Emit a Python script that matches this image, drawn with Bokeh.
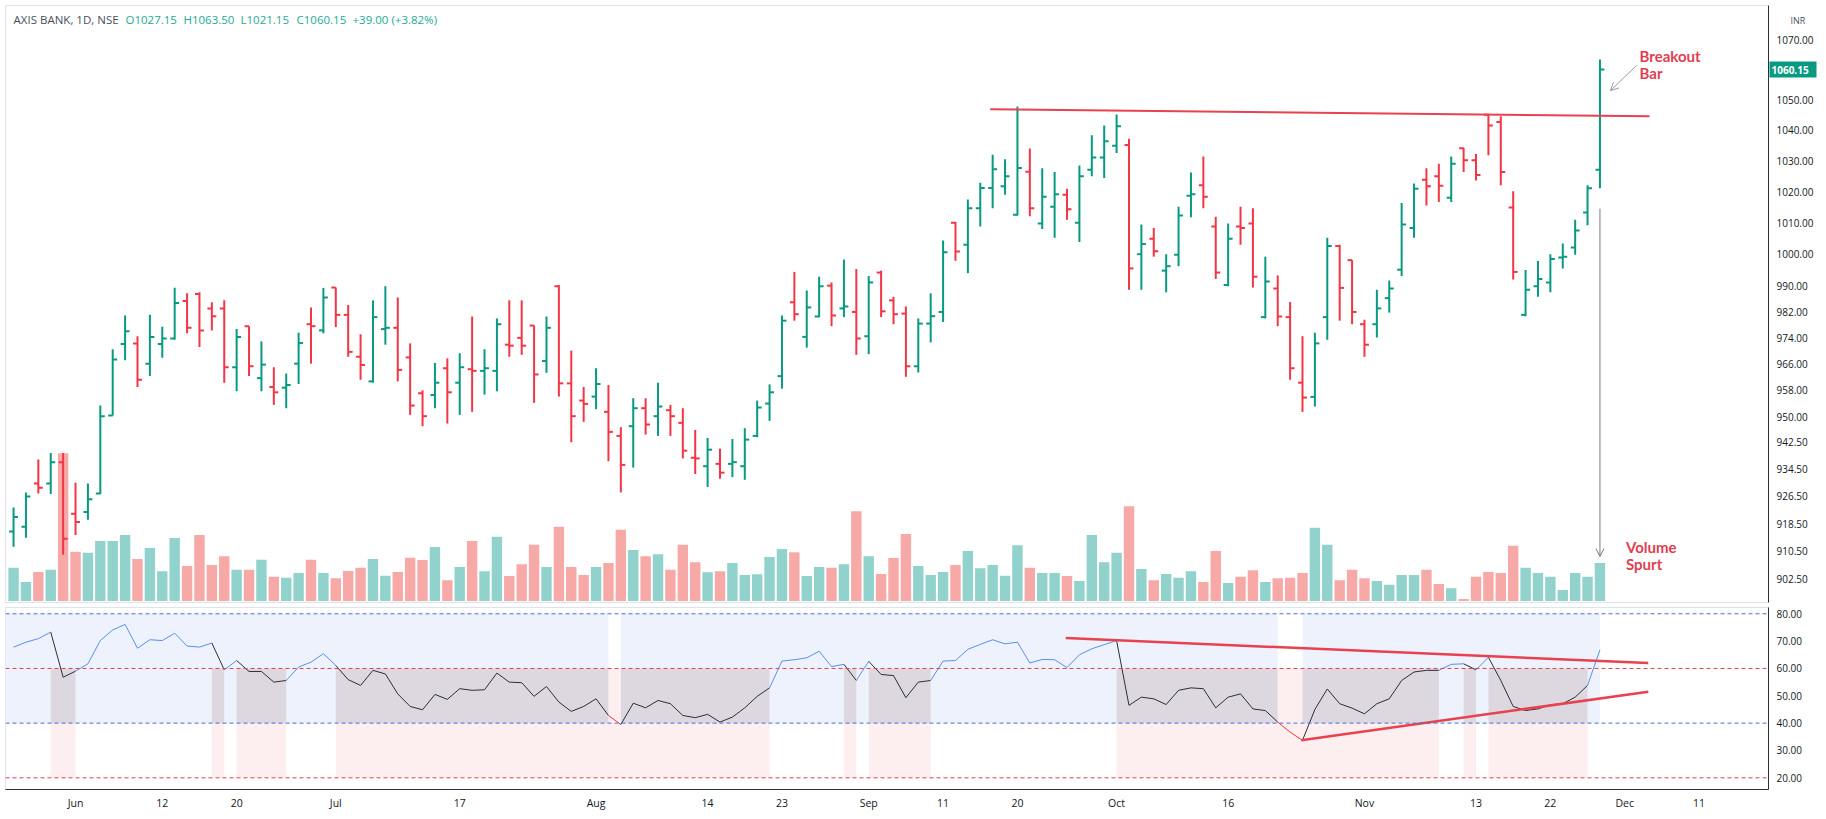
from bokeh.plotting import figure
from bokeh.layouts import column
from bokeh.models import (Range1d, LinearScale, FixedTicker, NumeralTickFormatter,
                          Label, Arrow, OpenHead, Span, LogAxis)
from bokeh.embed import file_html
from bokeh.resources import INLINE

# ---------------- data ----------------
symbol = "AXIS BANK, 1D, NSE"
currency = "INR"

opens = [
    916.2, 917.6, 930.2, 930.2, 936.5, 921.4, 921.9, 927.3, 950.4, 972.1,
    972.3, 966.1, 972.1, 973.8, 985.4, 987.6, 983.1, 983.1, 965.0, 977.6,
    961.7, 959.0, 958.8, 966.1, 978.2, 976.3, 989.6, 981.1, 968.2, 960.7,
    976.7, 977.1, 968.0, 957.1, 956.6, 964.7, 960.3, 964.4, 963.9, 963.9,
    971.9, 974.0, 977.8, 966.9, 990.0, 960.1, 954.9, 956.1, 951.5, 944.3,
    947.2, 952.6, 950.2, 952.0, 948.2, 937.8, 935.3, 936.0, 936.0, 935.3,
    944.3, 954.0, 962.3, 985.0, 974.3, 980.6, 990.2, 983.1, 982.0, 974.5,
    994.3, 985.6, 981.5, 965.3, 978.4, 982.0, 1010.1, 1003.1, 1014.7, 1021.2,
    1021.8, 1012.6, 1026.5, 1009.8, 1015.2, 1019.0, 1010.1, 1027.1, 1031.1, 1034.9,
    1035.2, 1000.1, 1005.0, 994.9, 999.9, 1018.7, 1022.1, 1008.9, 990.4, 1008.9,
    1009.8, 980.4, 989.3, 980.4, 960.3, 956.0, 980.4, 1002.7, 998.2, 978.2,
    978.2, 986.3, 995.2, 1008.4, 1023.9, 1025.0, 1018.1, 1034.1, 1030.2, 1045.1,
    1042.7, 1014.9, 981.1, 990.0, 991.2, 999.0, 1002.2, 1013.3, 1027.15,
]
highs = [
    923.2, 927.6, 937.3, 939.2, 939.2, 930.4, 930.2, 953.4, 970.5, 980.9,
    974.5, 981.1, 977.4, 989.5, 987.8, 988.1, 985.0, 985.6, 976.7, 977.6,
    972.9, 965.0, 963.1, 975.6, 983.4, 989.5, 989.6, 984.2, 975.1, 985.6,
    990.0, 986.5, 972.3, 958.0, 966.3, 967.7, 969.3, 980.6, 970.5, 980.0,
    985.6, 985.6, 977.8, 980.6, 990.4, 970.1, 959.0, 964.7, 959.6, 946.9,
    955.6, 955.6, 960.3, 953.6, 952.6, 946.1, 943.7, 940.5, 943.4, 946.6,
    954.9, 959.8, 980.9, 994.5, 988.7, 993.0, 991.2, 998.4, 995.4, 993.2,
    994.9, 986.7, 983.7, 980.0, 987.8, 1004.4, 1010.3, 1017.5, 1022.9, 1032.0,
    1030.5, 1047.8, 1034.0, 1027.6, 1026.4, 1021.0, 1028.5, 1038.4, 1041.6, 1045.2,
    1037.2, 1009.5, 1008.4, 1000.1, 1015.2, 1026.2, 1031.4, 1012.0, 1009.8, 1015.2,
    1014.7, 999.3, 993.4, 985.1, 974.5, 975.6, 1005.3, 1003.1, 998.2, 979.6,
    988.9, 991.8, 1016.4, 1022.7, 1027.6, 1029.1, 1031.4, 1034.3, 1032.2, 1045.4,
    1044.6, 1020.2, 995.1, 997.9, 1000.1, 1003.5, 1011.0, 1022.1, 1063.5,
]
lows = [
    911.8, 914.4, 927.3, 927.1, 909.5, 915.2, 919.6, 927.1, 950.4, 967.1,
    959.0, 962.3, 967.9, 973.4, 975.4, 971.2, 976.3, 960.3, 957.7, 962.3,
    957.7, 953.6, 952.6, 959.9, 966.1, 975.4, 977.3, 968.2, 961.2, 960.3,
    971.9, 960.7, 950.6, 947.2, 952.6, 948.0, 950.6, 951.5, 956.7, 957.7,
    968.2, 968.8, 954.2, 963.3, 956.1, 942.4, 948.5, 952.3, 936.8, 927.6,
    934.9, 944.7, 944.3, 944.3, 937.6, 933.0, 929.2, 931.6, 932.1, 931.3,
    943.9, 948.8, 958.5, 979.3, 971.0, 980.4, 977.6, 980.4, 968.8, 969.0,
    980.4, 978.2, 962.1, 963.4, 972.6, 978.9, 998.0, 994.1, 1008.9, 1014.7,
    1019.0, 1012.4, 1012.1, 1008.1, 1005.3, 1011.0, 1003.9, 1025.0, 1024.4, 1032.6,
    988.9, 988.9, 999.3, 988.1, 996.3, 1011.8, 1014.7, 992.3, 990.0, 1003.1,
    989.6, 980.0, 977.6, 961.2, 951.5, 953.1, 973.4, 979.3, 978.2, 968.2,
    974.1, 981.8, 993.2, 1005.3, 1015.6, 1016.7, 1016.7, 1026.4, 1023.6, 1031.8,
    1022.1, 992.1, 980.7, 986.7, 988.1, 995.6, 999.9, 1009.3, 1021.15,
]
closes = [
    920.4, 926.4, 929.0, 936.5, 914.1, 919.0, 925.6, 950.2, 967.4, 976.0,
    961.2, 974.3, 973.8, 984.8, 977.1, 976.3, 980.7, 965.0, 974.3, 965.3,
    965.8, 957.4, 959.6, 972.4, 977.6, 986.5, 981.1, 969.7, 965.7, 980.4,
    977.1, 964.2, 953.4, 950.2, 960.3, 957.4, 965.0, 963.9, 964.7, 978.2,
    971.6, 971.6, 962.8, 977.1, 960.1, 950.2, 953.9, 959.9, 945.5, 935.7,
    952.6, 947.7, 953.1, 950.2, 939.9, 937.6, 940.2, 933.4, 936.5, 943.2,
    952.8, 957.4, 979.3, 981.3, 983.4, 990.0, 980.9, 983.7, 973.8, 991.2,
    982.2, 981.3, 965.3, 978.4, 980.7, 1000.7, 1000.9, 1014.7, 1021.2, 1027.3,
    1025.0, 1027.7, 1014.7, 1018.4, 1019.2, 1014.4, 1025.0, 1031.1, 1036.4, 1041.3,
    995.6, 1003.3, 1001.0, 996.3, 1012.4, 1019.2, 1018.4, 994.3, 1005.0, 1008.4,
    993.0, 991.5, 980.6, 964.7, 955.8, 972.3, 1002.7, 989.5, 982.0, 971.9,
    983.1, 989.3, 1009.5, 1021.0, 1021.8, 1021.9, 1029.1, 1030.2, 1025.4, 1041.6,
    1026.4, 994.5, 988.9, 992.3, 998.6, 999.3, 1007.6, 1021.15, 1060.15,
]
# volume, million shares
volumes = [
    10.0, 5.7, 8.7, 9.4, 44.3, 14.8, 14.5, 18.0, 18.0, 19.8,
    12.6, 15.9, 8.9, 18.9, 10.5, 19.8, 10.8, 13.4, 9.4, 9.4,
    12.4, 7.3, 7.0, 8.4, 12.4, 8.4, 6.8, 9.0, 10.0, 12.6,
    7.6, 8.7, 13.0, 12.3, 16.2, 6.2, 10.2, 18.0, 8.9, 19.3,
    7.5, 11.0, 16.9, 10.2, 22.3, 10.2, 7.8, 10.2, 11.4, 21.4,
    15.3, 13.4, 14.0, 9.4, 16.9, 11.6, 8.6, 8.9, 11.4, 7.8,
    8.0, 13.2, 15.6, 14.6, 7.5, 10.2, 10.0, 11.0, 26.9, 13.4,
    8.1, 12.9, 20.1, 10.5, 7.8, 8.7, 10.8, 15.0, 9.8, 10.8,
    7.6, 16.7, 10.0, 8.4, 8.4, 7.5, 6.0, 19.8, 11.6, 14.5,
    28.4, 9.6, 6.2, 8.1, 7.0, 8.9, 5.7, 15.0, 5.4, 7.3,
    9.2, 5.7, 6.8, 7.0, 8.4, 22.0, 16.9, 6.2, 9.4, 6.8,
    6.0, 4.9, 7.8, 7.8, 9.4, 5.1, 3.8, 0.6, 7.3, 8.7,
    8.4, 16.6, 10.0, 8.4, 7.3, 3.3, 8.4, 7.3, 11.4,
]
rsi = [
    67.8, 69.6, 70.9, 73.3, 56.8, 59.0, 61.7, 70.2, 74.1, 76.1,
    67.4, 70.5, 70.2, 72.9, 68.2, 67.8, 69.3, 59.5, 62.9, 58.9,
    58.9, 55.0, 55.6, 60.5, 62.3, 65.4, 61.1, 55.9, 53.8, 59.3,
    58.0, 50.7, 46.1, 44.9, 50.5, 48.7, 52.6, 52.0, 52.2, 58.3,
    55.0, 54.8, 49.8, 53.4, 47.7, 44.3, 46.1, 48.9, 42.8, 39.5,
    47.3, 45.6, 48.3, 47.1, 42.8, 42.0, 43.2, 40.4, 42.2, 45.6,
    49.8, 52.9, 62.7, 63.2, 63.9, 66.3, 60.7, 61.5, 55.6, 62.6,
    57.8, 57.4, 49.3, 55.0, 55.6, 62.7, 62.9, 67.0, 68.8, 70.5,
    69.0, 69.6, 62.0, 63.3, 63.2, 60.3, 65.0, 67.2, 68.7, 70.2,
    46.5, 49.5, 48.9, 46.8, 52.0, 52.9, 52.6, 45.6, 49.5, 50.7,
    45.2, 44.6, 40.4, 36.7, 33.7, 45.0, 52.5, 47.1, 45.5, 43.4,
    47.1, 48.9, 55.6, 58.7, 59.3, 59.3, 61.5, 61.7, 59.5, 64.1,
    55.6, 46.1, 44.6, 45.2, 46.7, 47.1, 49.5, 53.8, 66.8,
]
# bar index of x-axis labels (trading-day index) and their texts
tick_pos = [5, 12, 18, 26, 36, 47, 56, 62, 69, 75, 81, 89, 98, 109, 118, 124, 130, 136]
tick_txt = ["Jun", "12", "20", "Jul", "17", "Aug", "14", "23", "Sep", "11", "20",
            "Oct", "16", "Nov", "13", "22", "Dec", "11"]
price_ticks = [1070, 1050, 1040, 1030, 1020, 1010, 1000, 990, 982, 974, 966, 958,
               950, 942.5, 934.5, 926.5, 918.5, 910.5, 902.5]
rsi_ticks = [20, 30, 40, 50, 60, 70, 80]
# drawn trend lines (bar index, value)
res_x, res_y = [78.8, 132.0], [1046.9, 1044.6]
rsi_up_x, rsi_up_y = [84.9, 131.9], [71.1, 62.0]
rsi_lo_x, rsi_lo_y = [103.9, 131.9], [33.7, 51.5]

# ---------------- styling ----------------
UP, DOWN = "#089981", "#f23645"
VUP, VDOWN = "#92d2cc", "#f7a9a7"
TXT = "#131722"
AX_FONT = "Open Sans"
ANN = "#e23e51"

n = len(closes)
idx = list(range(n))
bar_col = [UP if c >= o else DOWN for o, c in zip(opens, closes)]
vol_col = [VUP if c >= o else VDOWN for o, c in zip(opens, closes)]

xr = Range1d(-0.65, 141.6)

p = figure(width=1826, height=606, x_range=xr, y_range=Range1d(895.9, 1081.8),
           y_axis_type="log", y_axis_location="right", x_axis_location=None,
           output_backend="svg", toolbar_location=None,
           min_border_left=5, min_border_right=58, min_border_top=5, min_border_bottom=4)
p.extra_y_ranges = {"vol": Range1d(-0.45, 178.65)}
p.extra_y_scales = {"vol": LinearScale()}
p.grid.visible = False
p.outline_line_color = "#e0e3eb"
p.background_fill_color = "white"
p.border_fill_color = "white"


def plain_axis(ax, size="10px"):
    ax.major_tick_out = 0
    ax.major_tick_in = 0
    ax.minor_tick_out = 0
    ax.minor_tick_in = 0
    ax.major_label_text_font = AX_FONT
    ax.major_label_text_font_size = size
    ax.major_label_text_color = TXT


ya = p.yaxis[0]
ya.ticker = FixedTicker(ticks=price_ticks)
ya.formatter = NumeralTickFormatter(format="0.00")
plain_axis(ya)
ya.axis_line_color = "#2a2e39"
ya.major_label_standoff = 8

# last-price tag: a second axis whose single thick tick forms the green box
tag = LogAxis(ticker=FixedTicker(ticks=[closes[-1]]),
              formatter=NumeralTickFormatter(format="0.00"))
plain_axis(tag)
tag.axis_line_color = None
tag.major_tick_in = 47
tag.major_tick_line_color = UP
tag.major_tick_line_width = 16
tag.major_label_text_color = "white"
tag.major_label_text_font_style = "bold"
tag.major_label_standoff = -45
p.add_layout(tag, "right")

# currency box label
cur = LogAxis(ticker=FixedTicker(ticks=[1076.6]),
              major_label_overrides={1076.6: currency})
plain_axis(cur, "9px")
cur.axis_line_color = None
cur.major_label_text_color = "#50535e"
cur.major_label_standoff = -26
p.add_layout(cur, "right")

# volume
p.vbar(x=idx, top=volumes, bottom=0, width=0.84, fill_color=vol_col,
       line_color=None, y_range_name="vol")

# OHLC bars
tick = 0.36
p.segment(x0=idx, y0=lows, x1=idx, y1=highs, line_color=bar_col, line_width=2)
p.segment(x0=[i - tick for i in idx], y0=opens, x1=idx, y1=opens, line_color=bar_col, line_width=2)
p.segment(x0=idx, y0=closes, x1=[i + tick for i in idx], y1=closes, line_color=bar_col, line_width=2)

# resistance line
p.line(res_x, res_y, line_color="#e8414f", line_width=2)

# header
hy = 1077.0
head = [
    (0.0, symbol, "#4a4f5a"),
    (9.03, f"O{opens[-1]:.2f}", "#22ab94"),
    (13.71, f"H{highs[-1]:.2f}", "#22ab94"),
    (18.31, f"L{lows[-1]:.2f}", "#22ab94"),
    (22.83, f"C{closes[-1]:.2f}", "#22ab94"),
    (27.35, f"{closes[-1] - closes[-2]:+.2f} ({(closes[-1] - closes[-2]) / closes[-2] * 100:+.2f}%)", "#22ab94"),
]
for hx, t, c in head:
    p.add_layout(Label(x=hx, y=hy, text=t, text_color=c, text_font=AX_FONT,
                       text_font_size="11.5px", text_baseline="middle"))

# annotations
for tx, ty, t in [(131.2, 1064.8, "Breakout"), (131.2, 1059.1, "Bar"),
                  (130.1, 911.6, "Volume"), (130.1, 907.0, "Spurt")]:
    p.add_layout(Label(x=tx, y=ty, text=t, text_color=ANN, text_font="Lato",
                       text_font_size="15px", text_font_style="bold", text_baseline="middle"))
p.add_layout(Arrow(end=OpenHead(size=8, line_color="#9598a1", line_width=1),
                   x_start=130.95, y_start=1061.5, x_end=128.85, y_end=1053.1,
                   line_color="#9598a1", line_width=1))
p.add_layout(Arrow(end=OpenHead(size=8, line_color="#787b86", line_width=1),
                   x_start=128, y_start=1014.6, x_end=128, y_end=909.0,
                   line_color="#787b86", line_width=1))

# ---------------- RSI pane ----------------
p2 = figure(width=1826, height=213, x_range=xr, y_range=Range1d(15.72, 82.3),
            y_axis_location="right", output_backend="svg", toolbar_location=None,
            min_border_left=5, min_border_right=58, min_border_top=1, min_border_bottom=30)
p2.grid.visible = False
p2.outline_line_color = "#e0e3eb"


def runs(mask):
    out, start = [], None
    for i, m in enumerate(mask):
        if m and start is None:
            start = i
        if not m and start is not None:
            out.append((start, i - 1))
            start = None
    if start is not None:
        out.append((start, len(mask) - 1))
    return out


bull = [v > 40 for v in rsi]
bear = [v < 60 for v in rsi]
both = [a and b for a, b in zip(bull, bear)]
bear_only = [b and not a for a, b in zip(bull, bear)]


def quads(mask, bottom, top, color):
    r = runs(mask)
    if r:
        p2.quad(left=[a - 1 for a, b in r], right=[b for a, b in r], bottom=bottom, top=top,
                fill_color=color, line_color=None)


quads(bull, 40, 80, "#eef2fc")
quads(bear, 20, 40, "#fdefef")
quads(bear_only, 40, 60, "#fdefef")
quads(both, 40, 60, "#ddd8e0")

for lvl, col in [(80, "#4a6fd6"), (60, "#e0414f"), (40, "#4a6fd6"), (20, "#e0414f")]:
    p2.add_layout(Span(location=lvl, dimension="width", line_color=col, line_width=1,
                       line_dash="4 3"))

seg_col = []
for v in rsi[1:]:
    seg_col.append("#5a8ef0" if v > 60 else ("#f23645" if v < 40 else "#2a2e39"))
p2.segment(x0=idx[:-1], y0=rsi[:-1], x1=idx[1:], y1=rsi[1:], line_color=seg_col, line_width=1)

p2.line(rsi_up_x, rsi_up_y, line_color="#e8414f", line_width=2.5)
p2.line(rsi_lo_x, rsi_lo_y, line_color="#e8414f", line_width=2.5)

ya2 = p2.yaxis[0]
ya2.ticker = FixedTicker(ticks=rsi_ticks)
ya2.formatter = NumeralTickFormatter(format="0.00")
plain_axis(ya2)
ya2.axis_line_color = "#2a2e39"
ya2.major_label_standoff = 8

xa = p2.xaxis[0]
xa.ticker = FixedTicker(ticks=tick_pos)
xa.major_label_overrides = {k: v for k, v in zip(tick_pos, tick_txt)}
plain_axis(xa, "10.5px")
xa.axis_line_color = "#2a2e39"
xa.major_label_standoff = 6

layout = column(p, p2, spacing=0)
open("out.html", "w").write(file_html(layout, INLINE))
